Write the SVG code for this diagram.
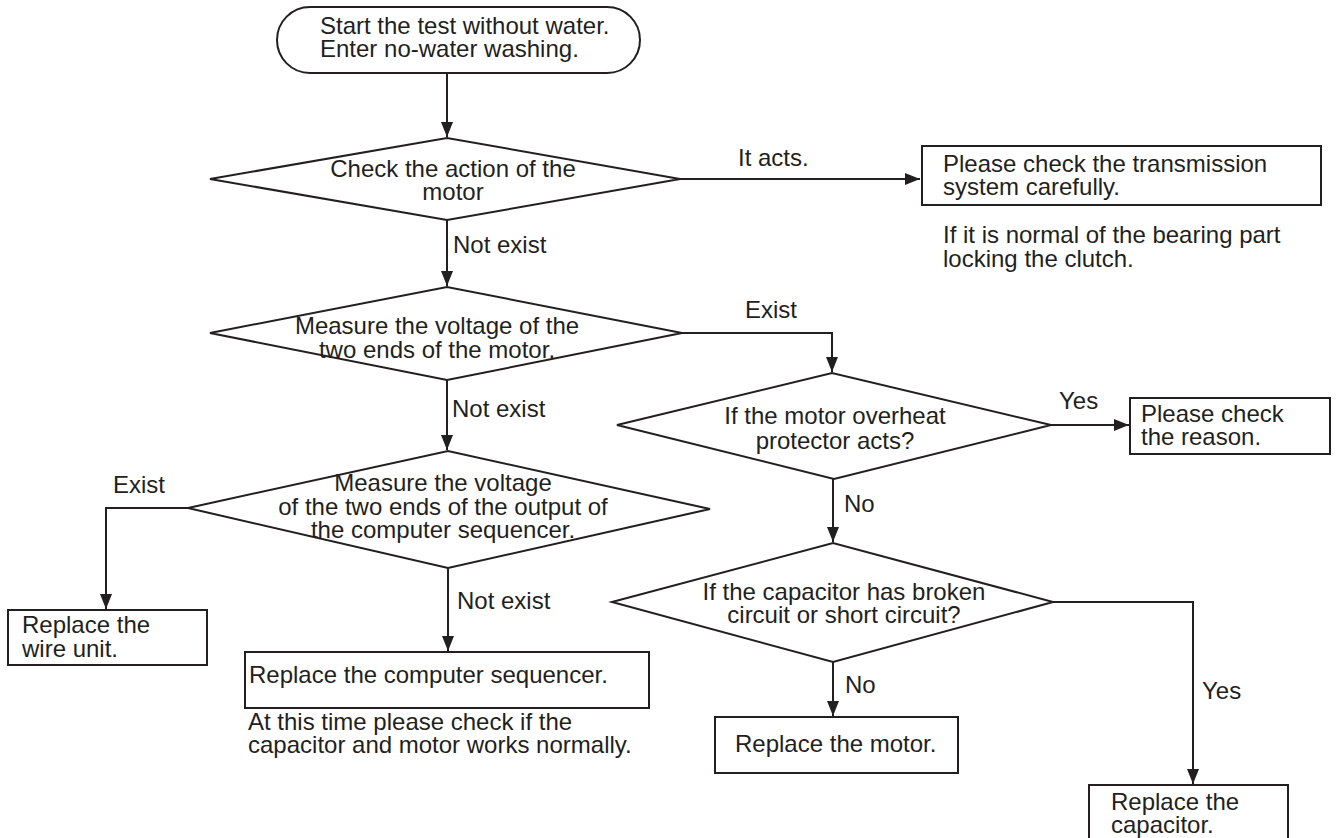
<svg xmlns="http://www.w3.org/2000/svg" width="1338" height="838" viewBox="0 0 1338 838">
<style>
.s{fill:#fff;stroke:#231f20;stroke-width:2}
.c{fill:none;stroke:#231f20;stroke-width:2}
text{font-family:"Liberation Sans",Arial,sans-serif;font-size:24px;fill:#231f20}
.m{text-anchor:middle}
</style>
<defs>
<marker id="ah" markerUnits="userSpaceOnUse" markerWidth="16" markerHeight="12" refX="15" refY="6" orient="auto">
<path d="M0,0 L15,6 L0,12 z" fill="#231f20"/>
</marker>
</defs>
<rect width="1338" height="838" fill="#fff"/>
<g id="connectors">
<path class="c" d="M447,73 V137" marker-end="url(#ah)"/>
<path class="c" d="M680,179 H920" marker-end="url(#ah)"/>
<path class="c" d="M447,220 V286" marker-end="url(#ah)"/>
<path class="c" d="M682,333 H832 V372" marker-end="url(#ah)"/>
<path class="c" d="M447,380 V450" marker-end="url(#ah)"/>
<path class="c" d="M1051,425 H1129" marker-end="url(#ah)"/>
<path class="c" d="M833,479 V542" marker-end="url(#ah)"/>
<path class="c" d="M188,508 H106 V609" marker-end="url(#ah)"/>
<path class="c" d="M448,568 V651" marker-end="url(#ah)"/>
<path class="c" d="M833,662 V716" marker-end="url(#ah)"/>
<path class="c" d="M1053,602 H1193 V784" marker-end="url(#ah)"/>
<text x="738" y="166">It acts.</text>
<text x="453" y="253">Not exist</text>
<text x="745" y="318">Exist</text>
<text x="452" y="417">Not exist</text>
<text x="1059" y="409">Yes</text>
<text x="844" y="512">No</text>
<text x="113" y="493">Exist</text>
<text x="457" y="609">Not exist</text>
<text x="845" y="693">No</text>
<text x="1202" y="699">Yes</text>
</g>
<g id="start">
<rect class="s" x="277" y="7" width="363" height="66" rx="33"/>
<text x="320" y="34">Start the test without water.<tspan x="320" y="57">Enter no-water washing.</tspan></text>
</g>
<g id="check-motor">
<polygon class="s" points="210,179 447,138 680,179 447,220"/>
<text class="m" x="453" y="177">Check the action of the<tspan x="453" y="200">motor</tspan></text>
</g>
<g id="check-transmission">
<rect class="s" x="922" y="146" width="399" height="59"/>
<text x="943" y="172">Please check the transmission<tspan x="943" y="195">system carefully.</tspan></text>
</g>
<g id="note-bearing">
<text x="943" y="243">If it is normal of the bearing part<tspan x="943" y="267">locking the clutch.</tspan></text>
</g>
<g id="measure-motor">
<polygon class="s" points="210,333 447,287 682,333 447,380"/>
<text class="m" x="437" y="334">Measure the voltage of the<tspan x="437" y="358">two ends of the motor.</tspan></text>
</g>
<g id="overheat">
<polygon class="s" points="617,425 832,373 1051,425 834,479"/>
<text class="m" x="835" y="424">If the motor overheat<tspan x="835" y="449">protector acts?</tspan></text>
</g>
<g id="check-reason">
<rect class="s" x="1130" y="398" width="200" height="56"/>
<text x="1141" y="422">Please check<tspan x="1141" y="445">the reason.</tspan></text>
</g>
<g id="measure-sequencer">
<polygon class="s" points="188,508 448,451 710,509 448,568"/>
<text class="m" x="443" y="491">Measure the voltage<tspan x="443" y="515">of the two ends of the output of</tspan><tspan x="443" y="538">the computer sequencer.</tspan></text>
</g>
<g id="replace-wire">
<rect class="s" x="8" y="610" width="199" height="55"/>
<text x="22" y="633">Replace the<tspan x="22" y="657">wire unit.</tspan></text>
</g>
<g id="capacitor-check">
<polygon class="s" points="612,602 833,543 1053,602 833,662"/>
<text class="m" x="844" y="600">If the capacitor has broken<tspan x="844" y="623">circuit or short circuit?</tspan></text>
</g>
<g id="replace-sequencer">
<rect class="s" x="245" y="652" width="404" height="56"/>
<text x="249" y="683">Replace the computer sequencer.</text>
</g>
<g id="note-capacitor">
<text x="248" y="730">At this time please check if the<tspan x="248" y="753">capacitor and motor works normally.</tspan></text>
</g>
<g id="replace-motor">
<rect class="s" x="715" y="717" width="243" height="56"/>
<text x="735" y="752">Replace the motor.</text>
</g>
<g id="replace-capacitor">
<rect class="s" x="1089" y="785" width="199" height="60"/>
<text x="1111" y="810">Replace the<tspan x="1111" y="833">capacitor.</tspan></text>
</g>
</svg>
